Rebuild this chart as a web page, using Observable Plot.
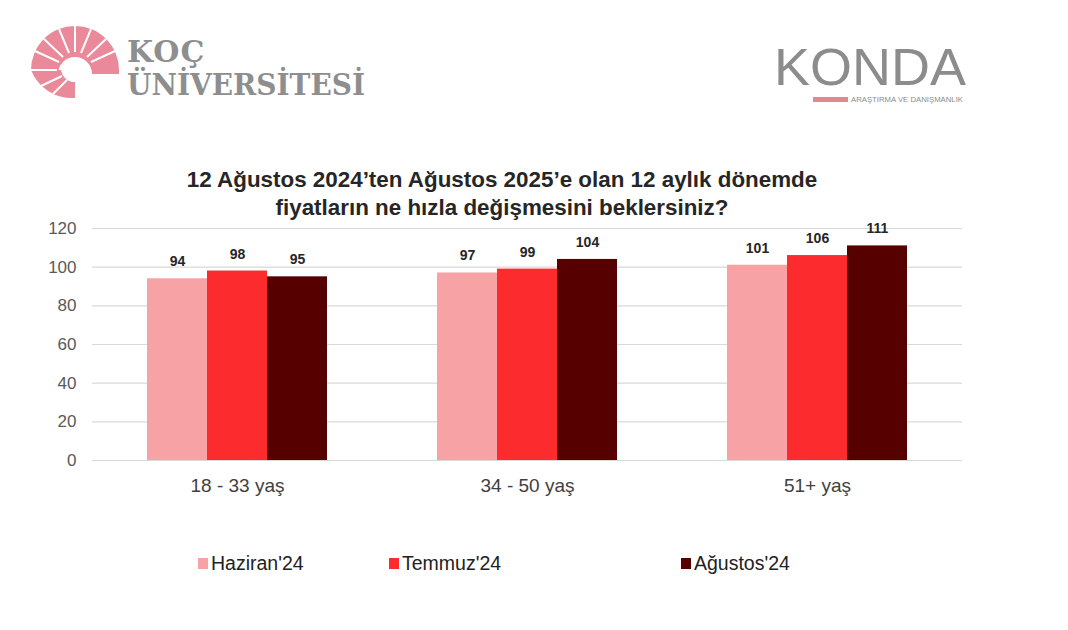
<!DOCTYPE html>
<html>
<head>
<meta charset="utf-8">
<script src="https://cdn.jsdelivr.net/npm/d3@7"></script>
<script src="https://cdn.jsdelivr.net/npm/@observablehq/plot@0.6"></script>
<style>
  body { margin: 0; background: #fff; width: 1068px; height: 630px; position: relative; overflow: hidden; font-family: "Liberation Sans", Arial, sans-serif; }
  #logos { position: absolute; left: 0; top: 0; }
  #title { position: absolute; left: 0; width: 1004px; top: 166px; text-align: center; font-family: "Liberation Sans Narrow", "Liberation Sans", Arial, sans-serif; font-weight: bold; font-size: 22.4px; line-height: 28px; color: #262626; }
  #chart { position: absolute; left: 0; top: 210px; }
  #legend { position: absolute; top: 552px; left: 0; width: 1068px; height: 24px; font-family: "Liberation Sans Narrow", "Liberation Sans", Arial, sans-serif; font-size: 19.5px; color: #222; }
  .li { position: absolute; top: 0; display: flex; align-items: center; }
  .sw { width: 10px; height: 11px; margin-right: 3px; }
</style>
</head>
<body>
<svg id="logos" width="1068" height="120">
  <g transform="translate(75,70)">
    <path d="M -44 0 A 44 44 0 0 1 44 0 L 44 4 L 17 4 A 17 17 0 1 0 -17 4 Z" fill="#e9899a"/>
    <path d="M -44 0 A 44 44 0 0 0 0 28 L 0 12 A 14 14 0 0 1 -14 0 Z" fill="#e9899a"/>
    <g stroke="#fff" stroke-width="2">
      <line x1="-18" y1="0" x2="-44" y2="0"/>
      <line x1="-16" y1="-8" x2="-40" y2="-19"/>
      <line x1="-12" y1="-13" x2="-31" y2="-31"/>
      <line x1="-6" y1="-17" x2="-16" y2="-41"/>
      <line x1="0" y1="-18" x2="0" y2="-44"/>
      <line x1="6" y1="-17" x2="16" y2="-41"/>
      <line x1="12" y1="-13" x2="31" y2="-31"/>
      <line x1="16" y1="-8" x2="40" y2="-19"/>
      <line x1="-13" y1="6" x2="-36" y2="17"/>
      <line x1="-8" y1="10" x2="-22" y2="24"/>
    </g>
  </g>
  <text x="127" y="62" font-family="DejaVu Serif, serif" font-weight="bold" font-size="30" fill="#8e8e8e" letter-spacing="1">KOÇ</text>
  <text x="127" y="95" font-family="DejaVu Serif, serif" font-weight="bold" font-size="30" fill="#8e8e8e" textLength="238" lengthAdjust="spacingAndGlyphs">ÜNİVERSİTESİ</text>
  <text x="774" y="85" font-family="Liberation Sans, Arial, sans-serif" font-size="52" fill="#8c8c8c" textLength="192" lengthAdjust="spacingAndGlyphs">KONDA</text>
  <rect x="813" y="97" width="35" height="5" fill="#e08a8f"/>
  <text x="851" y="102" font-family="Liberation Sans, Arial, sans-serif" font-size="7.5" fill="#8c8c8c" textLength="112" lengthAdjust="spacingAndGlyphs">ARAŞTIRMA VE DANIŞMANLIK</text>
</svg>
<div id="title">12 Ağustos 2024’ten Ağustos 2025’e olan 12 aylık dönemde<br>fiyatların ne hızla değişmesini beklersiniz?</div>
<div id="chart"></div>
<div id="legend"></div>
<script>
const groups = ["18 - 33 yaş", "34 - 50 yaş", "51+ yaş"];
const series = ["Haziran'24", "Temmuz'24", "Ağustos'24"];
const colors = ["#f7a3a5", "#fb2b2e", "#560000"];
const haziran = [94, 97, 101];
const temmuz = [98, 99, 106];
const agustos = [95, 104, 111];
const yTicks = [0, 20, 40, 60, 80, 100, 120];

const valuesBySeries = [haziran, temmuz, agustos];
const data = [];
groups.forEach((g, gi) => series.forEach((s, si) => data.push({group: g, series: s, value: valuesBySeries[si][gi]})));

const chart = Plot.plot({
  width: 1068,
  height: 300,
  marginTop: 18,
  marginBottom: 50,
  marginLeft: 92,
  marginRight: 106,
  style: { background: "transparent", fontFamily: "Liberation Sans, Arial, sans-serif" },
  fx: { domain: groups, padding: 0, label: null, axis: null },
  x: { domain: series, paddingInner: 0, paddingOuter: 0.88, axis: null },
  y: { domain: [0, 120], ticks: yTicks, label: null },
  color: { domain: series, range: colors },
  marks: [
    Plot.gridY(yTicks, { stroke: "#d9d9d9", strokeOpacity: 1, strokeWidth: 1.2, facetAnchor: null }),
    Plot.axisY(yTicks, { tickSize: 0, tickPadding: 16, fontSize: 17, fill: "#595959", label: null, facetAnchor: "left" }),
    Plot.axisFx({ anchor: "bottom", tickSize: 0, tickPadding: 18, fontSize: 19, fill: "#404040", label: null, fontFamily: "Liberation Sans Narrow, Liberation Sans, Arial, sans-serif" }),
    Plot.barY(data, { fx: "group", x: "series", y: "value", fill: "series" }),
    Plot.text(data, { fx: "group", x: "series", y: "value", text: d => String(d.value), dy: -17, fontSize: 14, fontWeight: "bold", fill: "#262626" })
  ]
});
document.getElementById("chart").appendChild(chart);

const legendPos = [198, 389, 681];
const legend = document.getElementById("legend");
series.forEach((s, i) => {
  const el = document.createElement("div");
  el.className = "li";
  el.style.left = legendPos[i] + "px";
  el.innerHTML = `<span class="sw" style="background:${colors[i]}"></span><span>${s}</span>`;
  legend.appendChild(el);
});
</script>
</body>
</html>
